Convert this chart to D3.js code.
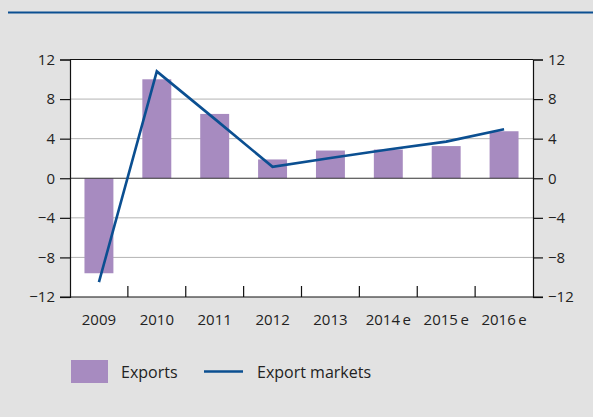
<!DOCTYPE html>
<html>
<head>
<meta charset="utf-8">
<script src="https://cdn.jsdelivr.net/npm/d3@7"></script>
<style>
  html, body { margin: 0; padding: 0; background: #e2e2e2; }
  svg { display: block; }
  text { font-family: "Open Sans", "Noto Sans", sans-serif; fill: #222; }
</style>
</head>
<body>
<svg id="chart" width="593" height="417"></svg>
<script>
const categories = ["2009", "2010", "2011", "2012", "2013", "2014\u2009e", "2015\u2009e", "2016\u2009e"];
const exportsValues = [-9.6, 10.0, 6.5, 1.9, 2.8, 2.9, 3.25, 4.75];
const exportMarkets = [-10.5, 10.8, 6.0, 1.15, 2.05, 2.9, 3.7, 4.95];
const yTicks = [-12, -8, -4, 0, 4, 8, 12];
const seriesNames = ["Exports", "Export markets"];

const W = 593, H = 417;
const svg = d3.select("#chart");

svg.append("rect").attr("x", 0).attr("y", 0).attr("width", W).attr("height", H).attr("fill", "#e2e2e2");
svg.append("line").attr("x1", 8).attr("x2", W).attr("y1", 12.5).attr("y2", 12.5)
  .attr("stroke", "#0b4f91").attr("stroke-width", 2);

const x0 = 70, x1 = 533, yTop = 59.5, yBot = 297;
const x = d3.scaleBand().domain(categories).range([x0, x1]).paddingInner(0.5).paddingOuter(0.25);
const xb = d3.scaleBand().domain(categories).range([x0, x1]);
const y = d3.scaleLinear().domain([-12, 12]).range([yBot, yTop]);

// plot background
svg.append("rect").attr("x", x0).attr("y", yTop).attr("width", x1 - x0).attr("height", yBot - yTop).attr("fill", "#fff");

// gridlines
svg.append("g").selectAll("line").data(yTicks.filter(d => d !== 0 && Math.abs(d) !== 12)).join("line")
  .attr("x1", x0).attr("x2", x1).attr("y1", d => y(d)).attr("y2", d => y(d))
  .attr("stroke", "#b4b4b4").attr("stroke-width", 1);

// bars
const barColor = "#a78bc0";
svg.append("g").selectAll("rect").data(exportsValues).join("rect")
  .attr("x", (d, i) => x(categories[i]))
  .attr("width", x.bandwidth())
  .attr("y", d => y(Math.max(0, d)))
  .attr("height", d => Math.abs(y(d) - y(0)))
  .attr("fill", barColor);

// zero line
svg.append("line").attr("x1", x0).attr("x2", x1).attr("y1", y(0)).attr("y2", y(0))
  .attr("stroke", "#333").attr("stroke-width", 1.2);

// line
const lineGen = d3.line().x((d, i) => xb(categories[i]) + xb.bandwidth() / 2).y(d => y(d));
svg.append("path").datum(exportMarkets).attr("d", lineGen)
  .attr("fill", "none").attr("stroke", "#0b4f91").attr("stroke-width", 2.6).attr("stroke-linejoin", "miter");

// frame top
svg.append("line").attr("x1", x0).attr("x2", x1).attr("y1", yTop).attr("y2", yTop).attr("stroke", "#111").attr("stroke-width", 1.2);

// axes
const fmt = d => d < 0 ? "\u2212" + Math.abs(d) : String(d);
const yl = svg.append("g").attr("transform", `translate(${x0},0)`)
  .call(d3.axisLeft(y).tickValues(yTicks).tickFormat(fmt).tickSize(10).tickPadding(5));
const yr = svg.append("g").attr("transform", `translate(${x1},0)`)
  .call(d3.axisRight(y).tickValues(yTicks).tickFormat(fmt).tickSize(10).tickPadding(5));
[yl, yr].forEach(g => {
  g.select(".domain").attr("stroke", "#111").attr("stroke-width", 1.2);
  g.selectAll(".tick line").attr("stroke", "#111").attr("stroke-width", 1.2);
  g.selectAll("text").attr("font-size", 15).attr("fill", "#1e1e1e")
    .style("font-family", '"Open Sans", "Noto Sans", sans-serif');
});

// bottom axis with ticks at band boundaries going inward
const xa = svg.append("g").attr("transform", `translate(0,${yBot})`)
  .call(d3.axisBottom(xb).tickSize(0).tickPadding(17));
xa.select(".domain").remove();
xa.selectAll("text").attr("font-size", 15).attr("fill", "#1e1e1e")
  .style("font-family", '"Open Sans", "Noto Sans", sans-serif');
svg.append("line").attr("x1", x0 - 10).attr("x2", x1 + 10).attr("y1", yBot).attr("y2", yBot).attr("stroke", "#111").attr("stroke-width", 1.2);
svg.append("g").selectAll("line").data(categories.slice(1)).join("line")
  .attr("x1", d => xb(d)).attr("x2", d => xb(d)).attr("y1", yBot).attr("y2", yBot - 11)
  .attr("stroke", "#111").attr("stroke-width", 1.2);

// legend
const lg = svg.append("g");
lg.append("rect").attr("x", 71).attr("y", 360).attr("width", 37).attr("height", 23).attr("fill", barColor);
lg.append("text").attr("x", 121).attr("y", 378).attr("font-size", 16).attr("fill", "#1e1e1e").text(seriesNames[0]);
lg.append("line").attr("x1", 204).attr("x2", 243).attr("y1", 371.5).attr("y2", 371.5).attr("stroke", "#0b4f91").attr("stroke-width", 2.6);
lg.append("text").attr("x", 257).attr("y", 378).attr("font-size", 16).attr("fill", "#1e1e1e").text(seriesNames[1]);
</script>
</body>
</html>
